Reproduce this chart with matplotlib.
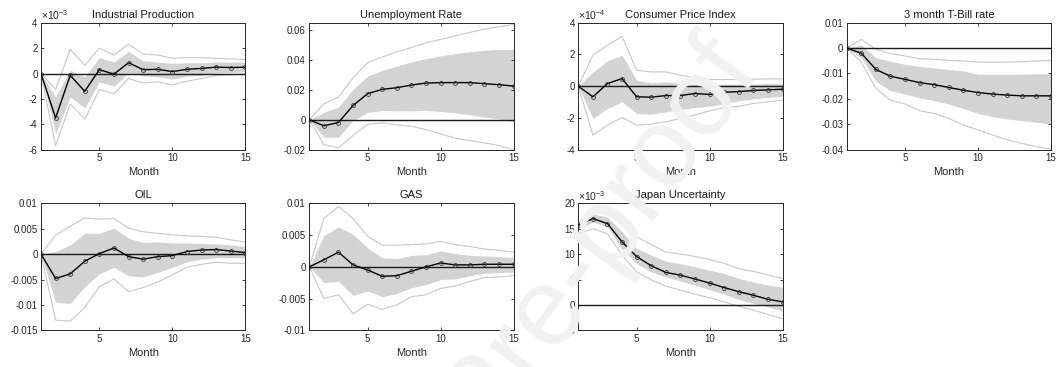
import numpy as np
import matplotlib
matplotlib.use("Agg")
import matplotlib.pyplot as plt
from matplotlib.ticker import FuncFormatter, FixedLocator
from matplotlib.font_manager import FontProperties
from matplotlib.textpath import text_to_path

plt.rcParams["font.family"] = ["Liberation Sans", "DejaVu Sans"]
plt.rcParams["mathtext.fontset"] = "custom"
plt.rcParams["mathtext.rm"] = "Liberation Sans"
plt.rcParams["mathtext.it"] = "Liberation Sans:italic"
plt.rcParams["axes.unicode_minus"] = False

months = np.arange(1, 16)

# Industrial Production (x 1e-3)
ip_med = [0, -3.5, -0.15, -1.4, 0.3, -0.05, 0.85, 0.3, 0.33, 0.15, 0.33, 0.4, 0.5, 0.47, 0.5]
ip_band_hi = [0, -1.85, 0.26, -0.26, 1.26, 0.9, 1.75, 1.0, 0.9, 0.8, 0.85, 0.85, 0.9, 0.9, 0.9]
ip_band_lo = [0, -4.7, -1.85, -2.7, -0.65, -1.0, 0.05, -0.2, -0.25, -0.45, -0.2, -0.15, 0.05, 0.08, 0.13]
ip_out_hi = [0, -1.26, 1.9, 0.65, 2.0, 1.45, 2.3, 1.55, 1.45, 1.2, 1.25, 1.25, 1.2, 1.15, 1.1]
ip_out_lo = [0, -5.7, -2.4, -3.6, -1.26, -1.6, -0.4, -0.75, -0.65, -0.9, -0.6, -0.4, -0.15, -0.1, -0.05]

# Unemployment Rate
ur_med = [0, -0.004, -0.0018, 0.0096, 0.0175, 0.0204, 0.0215, 0.0233, 0.0246, 0.0249, 0.0249, 0.0249, 0.0242, 0.0235, 0.0226]
ur_band_hi = [0, 0.005, 0.0085, 0.0204, 0.0293, 0.033, 0.036, 0.0387, 0.041, 0.0428, 0.0443, 0.0455, 0.0466, 0.0472, 0.0472]
ur_band_lo = [0, -0.0116, -0.0116, -0.0005, 0.005, 0.0063, 0.006, 0.006, 0.0063, 0.0056, 0.0047, 0.0034, 0.0018, 0.0007, -0.0011]
ur_out_hi = [0, 0.0107, 0.0152, 0.028, 0.0383, 0.0421, 0.0455, 0.0484, 0.0515, 0.0538, 0.0562, 0.0585, 0.0607, 0.0623, 0.0638]
ur_out_lo = [0, -0.0166, -0.0188, -0.0105, -0.003, -0.002, -0.0034, -0.0043, -0.0065, -0.0094, -0.0123, -0.0139, -0.0155, -0.0172, -0.0202]

# Consumer Price Index (x 1e-4)
cpi_med = [0, -0.67, 0.17, 0.48, -0.67, -0.69, -0.59, -0.59, -0.46, -0.52, -0.38, -0.34, -0.27, -0.23, -0.19]
cpi_band_hi = [0, 0.9, 1.6, 1.95, 0.38, 0.21, 0.27, 0.17, 0.13, 0.06, 0.13, 0.13, 0.13, 0.17, 0.17]
cpi_band_lo = [0, -2.03, -1.4, -0.98, -1.72, -1.76, -1.61, -1.47, -1.34, -1.26, -1.09, -0.92, -0.8, -0.71, -0.63]
cpi_out_hi = [0, 1.95, 2.58, 3.14, 1.0, 0.9, 0.9, 0.69, 0.54, 0.42, 0.42, 0.42, 0.44, 0.46, 0.46]
cpi_out_lo = [0, -3.08, -2.45, -1.97, -2.45, -2.39, -2.24, -2.03, -1.82, -1.55, -1.34, -1.26, -1.09, -0.98, -0.88]

# 3 month T-Bill rate
tb_med = [0, -0.002, -0.0084, -0.0111, -0.0123, -0.0136, -0.0144, -0.0155, -0.0166, -0.0175, -0.0181, -0.0185, -0.0188, -0.0188, -0.0188]
tb_band_hi = [0, 0.0013, -0.0038, -0.0052, -0.0064, -0.0072, -0.0078, -0.0084, -0.009, -0.0103, -0.0103, -0.0103, -0.0103, -0.0101, -0.0101]
tb_band_lo = [0, -0.0038, -0.0131, -0.0168, -0.0181, -0.0196, -0.0207, -0.022, -0.0238, -0.0257, -0.027, -0.0279, -0.0286, -0.0292, -0.0299]
tb_out_hi = [0, 0.0034, -0.0005, -0.0022, -0.0031, -0.0042, -0.0044, -0.0048, -0.0051, -0.0055, -0.0056, -0.0055, -0.0054, -0.0051, -0.0048]
tb_out_lo = [0, -0.0055, -0.0159, -0.0205, -0.022, -0.0247, -0.0257, -0.0277, -0.0303, -0.0322, -0.0342, -0.0361, -0.0375, -0.0388, -0.0398]

# OIL
oil_med = [0, -0.0048, -0.0039, -0.0014, 0.0001, 0.0012, -0.0005, -0.001, -0.0005, -0.0003, 0.0005, 0.0008, 0.0009, 0.0006, 0.0003]
oil_band_hi = [0, 0.0005, 0.0018, 0.0041, 0.0041, 0.0051, 0.0031, 0.0023, 0.0024, 0.0022, 0.0022, 0.0021, 0.002, 0.0018, 0.0015]
oil_band_lo = [0, -0.0095, -0.0097, -0.0064, -0.0039, -0.0026, -0.0043, -0.0045, -0.0036, -0.0026, -0.0015, -0.001, -0.0007, -0.0007, -0.0007]
oil_out_hi = [0, 0.0037, 0.0055, 0.0071, 0.0069, 0.007, 0.0051, 0.0044, 0.0041, 0.0038, 0.0036, 0.0035, 0.0033, 0.0028, 0.0024]
oil_out_lo = [0, -0.013, -0.0132, -0.0105, -0.0064, -0.0049, -0.0074, -0.0066, -0.0055, -0.0041, -0.0026, -0.002, -0.0016, -0.0018, -0.0018]

# GAS
gas_med = [0, 0.0011, 0.0023, 0.0003, -0.0005, -0.0015, -0.0014, -0.0007, 0.0, 0.0006, 0.0003, 0.0003, 0.0004, 0.0004, 0.0004]
gas_band_hi = [0, 0.0049, 0.0063, 0.0051, 0.003, 0.0014, 0.0013, 0.0018, 0.0019, 0.0025, 0.0021, 0.0018, 0.0017, 0.0016, 0.0015]
gas_band_lo = [0, -0.0025, -0.0023, -0.0045, -0.0038, -0.0047, -0.0042, -0.0033, -0.0028, -0.002, -0.0019, -0.0014, -0.001, -0.0009, -0.0008]
gas_out_hi = [0, 0.0076, 0.0095, 0.0076, 0.0048, 0.0034, 0.0034, 0.0035, 0.0036, 0.004, 0.0035, 0.0032, 0.0028, 0.0026, 0.0023]
gas_out_lo = [0, -0.005, -0.0044, -0.0074, -0.0059, -0.0067, -0.006, -0.0047, -0.0044, -0.0034, -0.003, -0.0023, -0.0017, -0.0016, -0.0014]

# Japan Uncertainty (x 1e-3)
ju_med = [15.7, 17.0, 16.0, 12.4, 9.5, 7.7, 6.4, 5.85, 5.1, 4.3, 3.4, 2.6, 1.9, 1.1, 0.6]
ju_band_hi = [16.3, 17.9, 17.3, 14.4, 11.1, 9.8, 8.6, 8.1, 7.5, 6.8, 6.2, 5.2, 4.5, 3.9, 3.5]
ju_band_lo = [15.0, 16.3, 15.4, 11.0, 8.1, 6.5, 5.5, 4.7, 3.9, 3.0, 2.1, 1.1, 0.3, -0.4, -1.2]
ju_out_hi = [16.0, 19.1, 19.1, 16.0, 13.4, 11.9, 10.4, 10.0, 9.55, 8.9, 8.2, 7.1, 6.6, 5.9, 5.2]
ju_out_lo = [14.0, 15.0, 14.0, 9.8, 6.5, 4.9, 3.7, 2.9, 2.1, 1.4, 0.6, -0.3, -1.0, -1.9, -2.7]

titles = ["Industrial Production", "Unemployment Rate", "Consumer Price Index",
          "3 month T-Bill rate", "OIL", "GAS", "Japan Uncertainty"]

W, H, DPI = 1063, 367, 100
fig = plt.figure(figsize=(W / DPI, H / DPI), dpi=DPI)

col_left = [41, 309.3, 578.3, 846.7]
row_top = [22.7, 203.3]
ax_w, ax_h = 204.3, 127.0

BAND = "#d3d3d3"
OUTER = "#c8c8c8"
AXC = "#262626"


def make_axes(row, col):
    left = col_left[col] / W
    bottom = 1 - (row_top[row] + ax_h) / H
    return fig.add_axes([left, bottom, ax_w / W, ax_h / H])


def draw_panel(ax, title, med, blo, bhi, olo, ohi, ylim, yticks, exponent=None):
    ax.fill_between(months, blo, bhi, color=BAND, linewidth=0, zorder=1)
    ax.plot(months, ohi, color=OUTER, lw=0.8, zorder=2)
    ax.plot(months, olo, color=OUTER, lw=0.8, zorder=2)
    ax.axhline(0, color="#1a1a1a", lw=1.0, zorder=3)
    ax.plot(months, med, color="black", lw=1.0, marker="o", ms=2.8,
            mfc="none", mec="#333333", mew=0.6, zorder=4)
    ax.set_xlim(1, 15)
    ax.set_ylim(*ylim)
    ax.xaxis.set_major_locator(FixedLocator([5, 10, 15]))
    ax.yaxis.set_major_locator(FixedLocator(yticks))
    ax.yaxis.set_major_formatter(FuncFormatter(lambda v, p: "%g" % round(v, 6)))
    ax.tick_params(direction="in", length=2.5, width=0.6, color=AXC,
                   labelsize=7, pad=2.5, top=True, right=True, labelcolor="#262626")
    for s in ax.spines.values():
        s.set_color(AXC)
        s.set_linewidth(0.7)
    ax.set_title(title, fontsize=8, pad=3.5, color="#1a1a1a")
    ax.set_xlabel("Month", fontsize=8, labelpad=3, color="#262626")
    if exponent is not None:
        ax.text(0.0, 1.005, r"$\times10^{%d}$" % exponent, transform=ax.transAxes,
                ha="left", va="bottom", fontsize=7.5, color="#262626")


panels = [
    (0, 0, titles[0], ip_med, ip_band_lo, ip_band_hi, ip_out_lo, ip_out_hi, (-6, 4), [-6, -4, -2, 0, 2, 4], -3),
    (0, 1, titles[1], ur_med, ur_band_lo, ur_band_hi, ur_out_lo, ur_out_hi, (-0.02, 0.065), [-0.02, 0, 0.02, 0.04, 0.06], None),
    (0, 2, titles[2], cpi_med, cpi_band_lo, cpi_band_hi, cpi_out_lo, cpi_out_hi, (-4, 4), [-4, -2, 0, 2, 4], -4),
    (0, 3, titles[3], tb_med, tb_band_lo, tb_band_hi, tb_out_lo, tb_out_hi, (-0.04, 0.01), [-0.04, -0.03, -0.02, -0.01, 0, 0.01], None),
    (1, 0, titles[4], oil_med, oil_band_lo, oil_band_hi, oil_out_lo, oil_out_hi, (-0.015, 0.01), [-0.015, -0.01, -0.005, 0, 0.005, 0.01], None),
    (1, 1, titles[5], gas_med, gas_band_lo, gas_band_hi, gas_out_lo, gas_out_hi, (-0.01, 0.01), [-0.01, -0.005, 0, 0.005, 0.01], None),
    (1, 2, titles[6], ju_med, ju_band_lo, ju_band_hi, ju_out_lo, ju_out_hi, (-5, 20), [-5, 0, 5, 10, 15, 20], -3),
]

for row, col, title, med, blo, bhi, olo, ohi, ylim, yticks, expo in panels:
    ax = make_axes(row, col)
    draw_panel(ax, title, med, blo, bhi, olo, ohi, ylim, yticks, expo)

# Diagonal watermark: the join between the two "o" of "proof" sits at (686, 126)
# in pixel coordinates measured from the top-left corner.
wm_text = "Journal Pre-proof"
wm_size = 80
wm_angle = np.deg2rad(54)
wm_prop = FontProperties(family="Liberation Sans", size=wm_size)
px_per_pt = DPI / 72.0
em_px = wm_size * px_per_pt
prefix_w = text_to_path.get_text_width_height_descent("Journal Pre-pro", wm_prop, ismath=False)[0]
along = prefix_w * px_per_pt + 0.04 * em_px
rise = 0.26 * em_px
u = np.array([np.cos(wm_angle), -np.sin(wm_angle)])
up = np.array([-np.sin(wm_angle), -np.cos(wm_angle)])
anchor = np.array([686.5, 126.0]) - along * u - rise * up
fig.text(anchor[0] / W, 1 - anchor[1] / H, wm_text, fontproperties=wm_prop, color="#f1f1f1",
         rotation=54, rotation_mode="anchor", ha="left", va="baseline", zorder=10)

fig.savefig("out.png", dpi=DPI)
